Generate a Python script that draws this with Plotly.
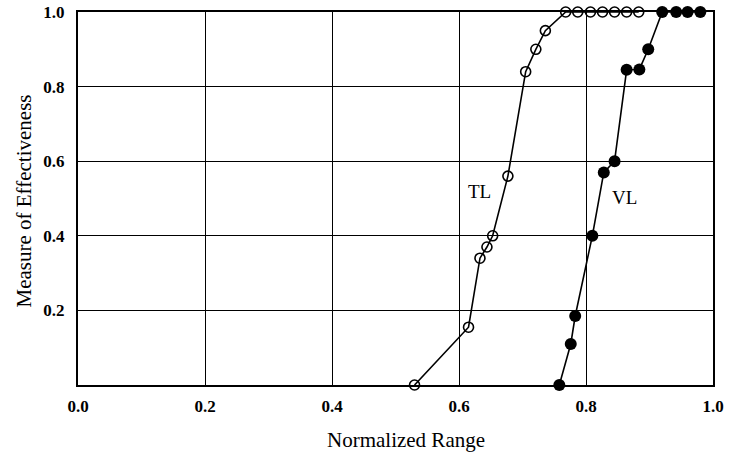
import plotly.graph_objects as go

# TL series (open circles)
tl_x = [0.53, 0.615, 0.633, 0.644, 0.653, 0.677, 0.705, 0.721, 0.736,
        0.768, 0.787, 0.807, 0.826, 0.845, 0.864, 0.883]
tl_y = [0.0, 0.155, 0.34, 0.37, 0.40, 0.56, 0.84, 0.90, 0.95,
        1.0, 1.0, 1.0, 1.0, 1.0, 1.0, 1.0]

# VL series (filled circles)
vl_x = [0.758, 0.776, 0.783, 0.81, 0.828, 0.845, 0.864, 0.884, 0.898,
        0.92, 0.942, 0.96, 0.98]
vl_y = [0.0, 0.11, 0.185, 0.40, 0.57, 0.60, 0.845, 0.846, 0.90,
        1.0, 1.0, 1.0, 1.0]

x_ticks = [0.0, 0.2, 0.4, 0.6, 0.8, 1.0]
x_tick_labels = ["0.0", "0.2", "0.4", "0.6", "0.8", "1.0"]
y_ticks = [0.2, 0.4, 0.6, 0.8, 1.0]
y_tick_labels = ["0.2", "0.4", "0.6", "0.8", "1.0"]

serif = "Liberation Serif"

fig = go.Figure()
fig.add_trace(go.Scatter(
    x=tl_x, y=tl_y, mode="lines+markers", name="TL",
    line=dict(color="black", width=1.6),
    marker=dict(symbol="circle-open", size=10, color="black", line=dict(width=1.6)),
    cliponaxis=False, showlegend=False))
fig.add_trace(go.Scatter(
    x=vl_x, y=vl_y, mode="lines+markers", name="VL",
    line=dict(color="black", width=1.6),
    marker=dict(symbol="circle", size=12, color="black"),
    cliponaxis=False, showlegend=False))

fig.add_annotation(x=0.633, y=0.52, text="TL", showarrow=False,
                   font=dict(family=serif, size=19, color="black"))
fig.add_annotation(x=0.861, y=0.503, text="VL", showarrow=False,
                   font=dict(family=serif, size=19, color="black"))

# axis titles
fig.add_annotation(xref="paper", yref="paper", x=0.5165, y=-0.1475,
                   text="Normalized Range", showarrow=False,
                   xanchor="center", yanchor="middle",
                   font=dict(family=serif, size=21, color="black"))
fig.add_annotation(xref="paper", yref="paper", x=-0.085, y=0.492,
                   text="Measure of Effectiveness", showarrow=False, textangle=-90,
                   xanchor="center", yanchor="middle",
                   font=dict(family=serif, size=21, color="black"))

fig.update_layout(
    width=733, height=453,
    margin=dict(l=78, r=20, t=12, b=68),
    paper_bgcolor="white", plot_bgcolor="white",
    font=dict(family=serif, color="black"),
)
fig.update_xaxes(
    range=[0, 1], tickvals=x_ticks, ticktext=x_tick_labels,
    showgrid=True, gridcolor="black", gridwidth=1,
    showline=True, linecolor="black", linewidth=2, mirror=True,
    zeroline=False, ticks="", ticklabelstandoff=5, automargin=False,
    tickfont=dict(family=serif, size=17, color="black", weight="bold"),
)
fig.update_yaxes(
    range=[0, 1], tickvals=y_ticks, ticktext=y_tick_labels,
    showgrid=True, gridcolor="black", gridwidth=1,
    showline=True, linecolor="black", linewidth=2, mirror=True,
    zeroline=False, ticks="", ticklabelstandoff=8, automargin=False,
    tickfont=dict(family=serif, size=17, color="black", weight="bold"),
)

fig.write_html("out.html")
